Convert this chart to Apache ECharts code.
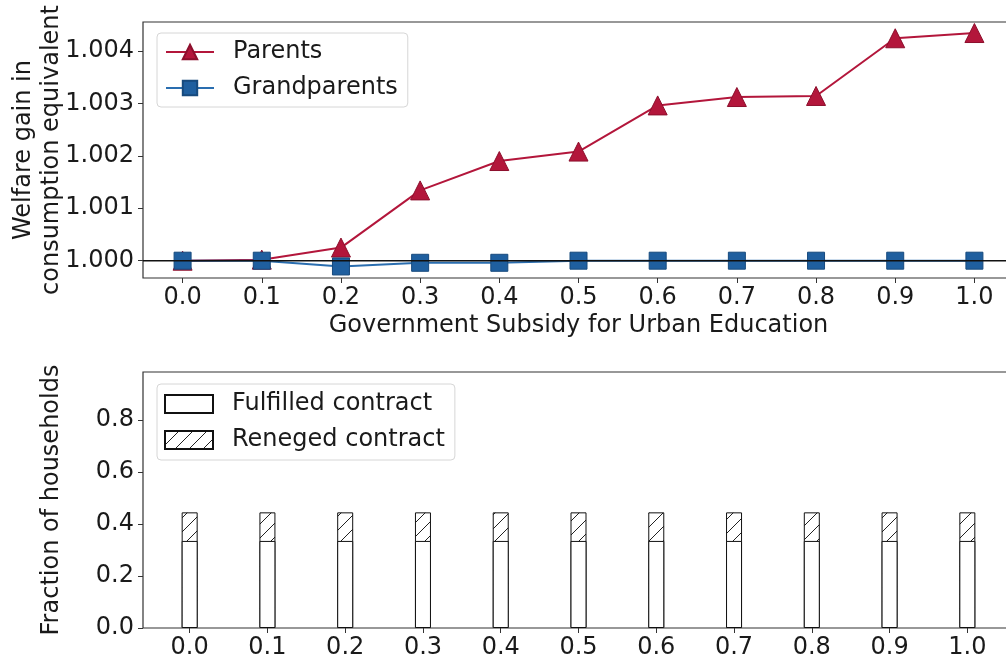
<!DOCTYPE html>
<html>
<head>
<meta charset="utf-8">
<script src="https://cdn.jsdelivr.net/npm/echarts@6/dist/echarts.min.js"></script>
<style>
  html, body { margin: 0; padding: 0; background: #ffffff; }
  #chart { width: 1006px; height: 665px; }
</style>
</head>
<body>
<div id="chart"></div>
<script>
// Subsidy levels (x positions shared by both panels)
const subsidy = [0.0, 0.1, 0.2, 0.3, 0.4, 0.5, 0.6, 0.7, 0.8, 0.9, 1.0];

// Welfare gain in consumption equivalent
const parents      = [1.00000, 1.00002, 1.00025, 1.00134, 1.00190, 1.00208, 1.00296, 1.00312, 1.00314, 1.00424, 1.00434];
const grandparents = [1.00000, 1.00000, 0.99989, 0.99996, 0.99996, 1.00000, 1.00000, 1.00000, 1.00000, 1.00000, 1.00000];
const baselineLevel = 1.0;

// Fraction of households by contract outcome
const fulfilled = [0.335, 0.335, 0.335, 0.335, 0.335, 0.335, 0.335, 0.335, 0.335, 0.335, 0.335];
const reneged   = [0.110, 0.110, 0.110, 0.110, 0.110, 0.110, 0.110, 0.110, 0.110, 0.110, 0.110];

// Tick labels
const xTicks       = [0.0, 0.1, 0.2, 0.3, 0.4, 0.5, 0.6, 0.7, 0.8, 0.9, 1.0];
const welfareTicks = [1.000, 1.001, 1.002, 1.003, 1.004];
const fracTicks    = [0.0, 0.2, 0.4, 0.6, 0.8];

const FONT = 'DejaVu Sans';
const FS = 24;
const INK = '#1a1a1a';
const RED = '#b3163b';
const BLUE = '#1f5f9f';

// Diagonal "//" hatch tile for the reneged bars
function hatchTile() {
  const s = 14;
  const c = document.createElement('canvas');
  c.width = s; c.height = s;
  const g = c.getContext('2d');
  g.fillStyle = '#ffffff';
  g.fillRect(0, 0, s, s);
  g.strokeStyle = '#222222';
  g.lineWidth = 1;
  g.beginPath();
  g.moveTo(0, s); g.lineTo(s, 0);
  g.moveTo(-2, 2); g.lineTo(2, -2);
  g.moveTo(s - 2, s + 2); g.lineTo(s + 2, s - 2);
  g.stroke();
  return c;
}

const pairs = (xs, ys) => xs.map((x, i) => [x, ys[i]]);
// reneged segment sits on top of the fulfilled one: draw it to the cumulative height
const stackedTop = (base, add) => base.map((b, i) => b + add[i]);

const tickLabel = { fontFamily: FONT, fontSize: FS, color: INK };
const tickStyle = vals => ({ show: true, length: 5, lineStyle: { color: '#333', width: 1 }, customValues: vals });
const noLine = { show: false, onZero: false };

const chart = echarts.init(document.getElementById('chart'), null, { renderer: 'canvas' });

chart.setOption({
  animation: false,
  backgroundColor: '#ffffff',
  grid: [
    { left: 143, top: 22, right: -8, height: 256, outerBoundsMode: 'none', containLabel: false,
      show: true, borderColor: '#333', borderWidth: 1.2, backgroundColor: 'transparent' },
    { left: 143, top: 372, right: -8, height: 256, outerBoundsMode: 'none', containLabel: false,
      show: true, borderColor: '#333', borderWidth: 1.2, backgroundColor: 'transparent' }
  ],
  xAxis: [
    {
      gridIndex: 0, type: 'value', min: -0.05, max: 1.05,
      name: 'Government Subsidy for Urban Education', nameLocation: 'middle', nameGap: 36, nameMoveOverlap: false,
      nameTextStyle: { fontFamily: FONT, fontSize: FS, color: INK },
      axisLine: noLine,
      axisTick: tickStyle(xTicks),
      axisLabel: Object.assign({ margin: 8, customValues: xTicks, formatter: v => v.toFixed(1) }, tickLabel),
      splitLine: { show: false }
    },
    {
      gridIndex: 1, type: 'value', min: -0.06, max: 1.06,
      axisLine: noLine,
      axisTick: tickStyle(xTicks),
      axisLabel: Object.assign({ margin: 8, customValues: xTicks, formatter: v => v.toFixed(1) }, tickLabel),
      splitLine: { show: false }
    }
  ],
  yAxis: [
    {
      gridIndex: 0, type: 'value', min: 0.99967, max: 1.00455,
      name: 'Welfare gain in\nconsumption equivalent', nameLocation: 'middle', nameRotate: 90, nameGap: 77, nameMoveOverlap: false,
      nameTextStyle: { fontFamily: FONT, fontSize: FS, color: INK, lineHeight: 28 },
      axisLine: noLine,
      axisTick: tickStyle(welfareTicks),
      axisLabel: Object.assign({ margin: 9, customValues: welfareTicks, formatter: v => v.toFixed(3) }, tickLabel),
      splitLine: { show: false }
    },
    {
      gridIndex: 1, type: 'value', min: 0, max: 0.985,
      name: 'Fraction of households', nameLocation: 'middle', nameRotate: 90, nameGap: 77, nameMoveOverlap: false,
      nameTextStyle: { fontFamily: FONT, fontSize: FS, color: INK, lineHeight: 28 },
      axisLine: noLine,
      axisTick: tickStyle(fracTicks),
      axisLabel: Object.assign({ margin: 9, customValues: fracTicks, formatter: v => v.toFixed(1) }, tickLabel),
      splitLine: { show: false }
    }
  ],
  legend: [
    {
      data: ['Parents', 'Grandparents'],
      orient: 'vertical', left: 157, top: 33,
      itemWidth: 48, itemHeight: 18, itemGap: 12,
      padding: [7, 10, 7, 8],
      backgroundColor: 'rgba(255,255,255,0.8)', borderColor: '#d6d6d6', borderWidth: 1, borderRadius: 4,
      textStyle: { fontFamily: FONT, fontSize: FS, color: INK, padding: [0, 0, 0, 14] }
    },
    {
      data: [
        { name: 'Fulfilled contract', icon: 'rect' },
        { name: 'Reneged contract', icon: 'rect' }
      ],
      orient: 'vertical', left: 157, top: 384,
      itemWidth: 48, itemHeight: 18, itemGap: 12,
      padding: [8, 10, 8, 7],
      backgroundColor: 'rgba(255,255,255,0.8)', borderColor: '#d6d6d6', borderWidth: 1, borderRadius: 4,
      textStyle: { fontFamily: FONT, fontSize: FS, color: INK, padding: [0, 0, 0, 14] }
    }
  ],
  series: [
    {
      name: 'Parents', type: 'line', xAxisIndex: 0, yAxisIndex: 0,
      data: pairs(subsidy, parents),
      smooth: false,
      symbol: 'triangle', symbolSize: 19,
      lineStyle: { color: RED, width: 2 },
      itemStyle: { color: RED, borderColor: '#8c0f2c', borderWidth: 1 },
      z: 3
    },
    {
      name: 'Grandparents', type: 'line', xAxisIndex: 0, yAxisIndex: 0,
      data: pairs(subsidy, grandparents),
      smooth: false,
      symbol: 'rect', symbolSize: 17,
      lineStyle: { color: '#2a6eb0', width: 2 },
      itemStyle: { color: BLUE, borderColor: '#174a7d', borderWidth: 1 },
      z: 4
    },
    {
      name: 'baseline', type: 'line', xAxisIndex: 0, yAxisIndex: 0,
      data: [[-0.05, baselineLevel], [1.05, baselineLevel]],
      symbol: 'none', silent: true,
      lineStyle: { color: '#111', width: 1.6 },
      z: 5
    },
    {
      name: 'Reneged contract', type: 'bar', xAxisIndex: 1, yAxisIndex: 1,
      barWidth: 16, barGap: '-100%',
      data: pairs(subsidy, stackedTop(fulfilled, reneged)),
      itemStyle: { color: { image: hatchTile(), repeat: 'repeat' }, borderColor: '#111', borderWidth: 1 },
      z: 2
    },
    {
      name: 'Fulfilled contract', type: 'bar', xAxisIndex: 1, yAxisIndex: 1,
      barWidth: 16, barGap: '-100%',
      data: pairs(subsidy, fulfilled),
      itemStyle: { color: '#ffffff', borderColor: '#111', borderWidth: 1 },
      z: 3
    }
  ]
});
</script>
</body>
</html>
